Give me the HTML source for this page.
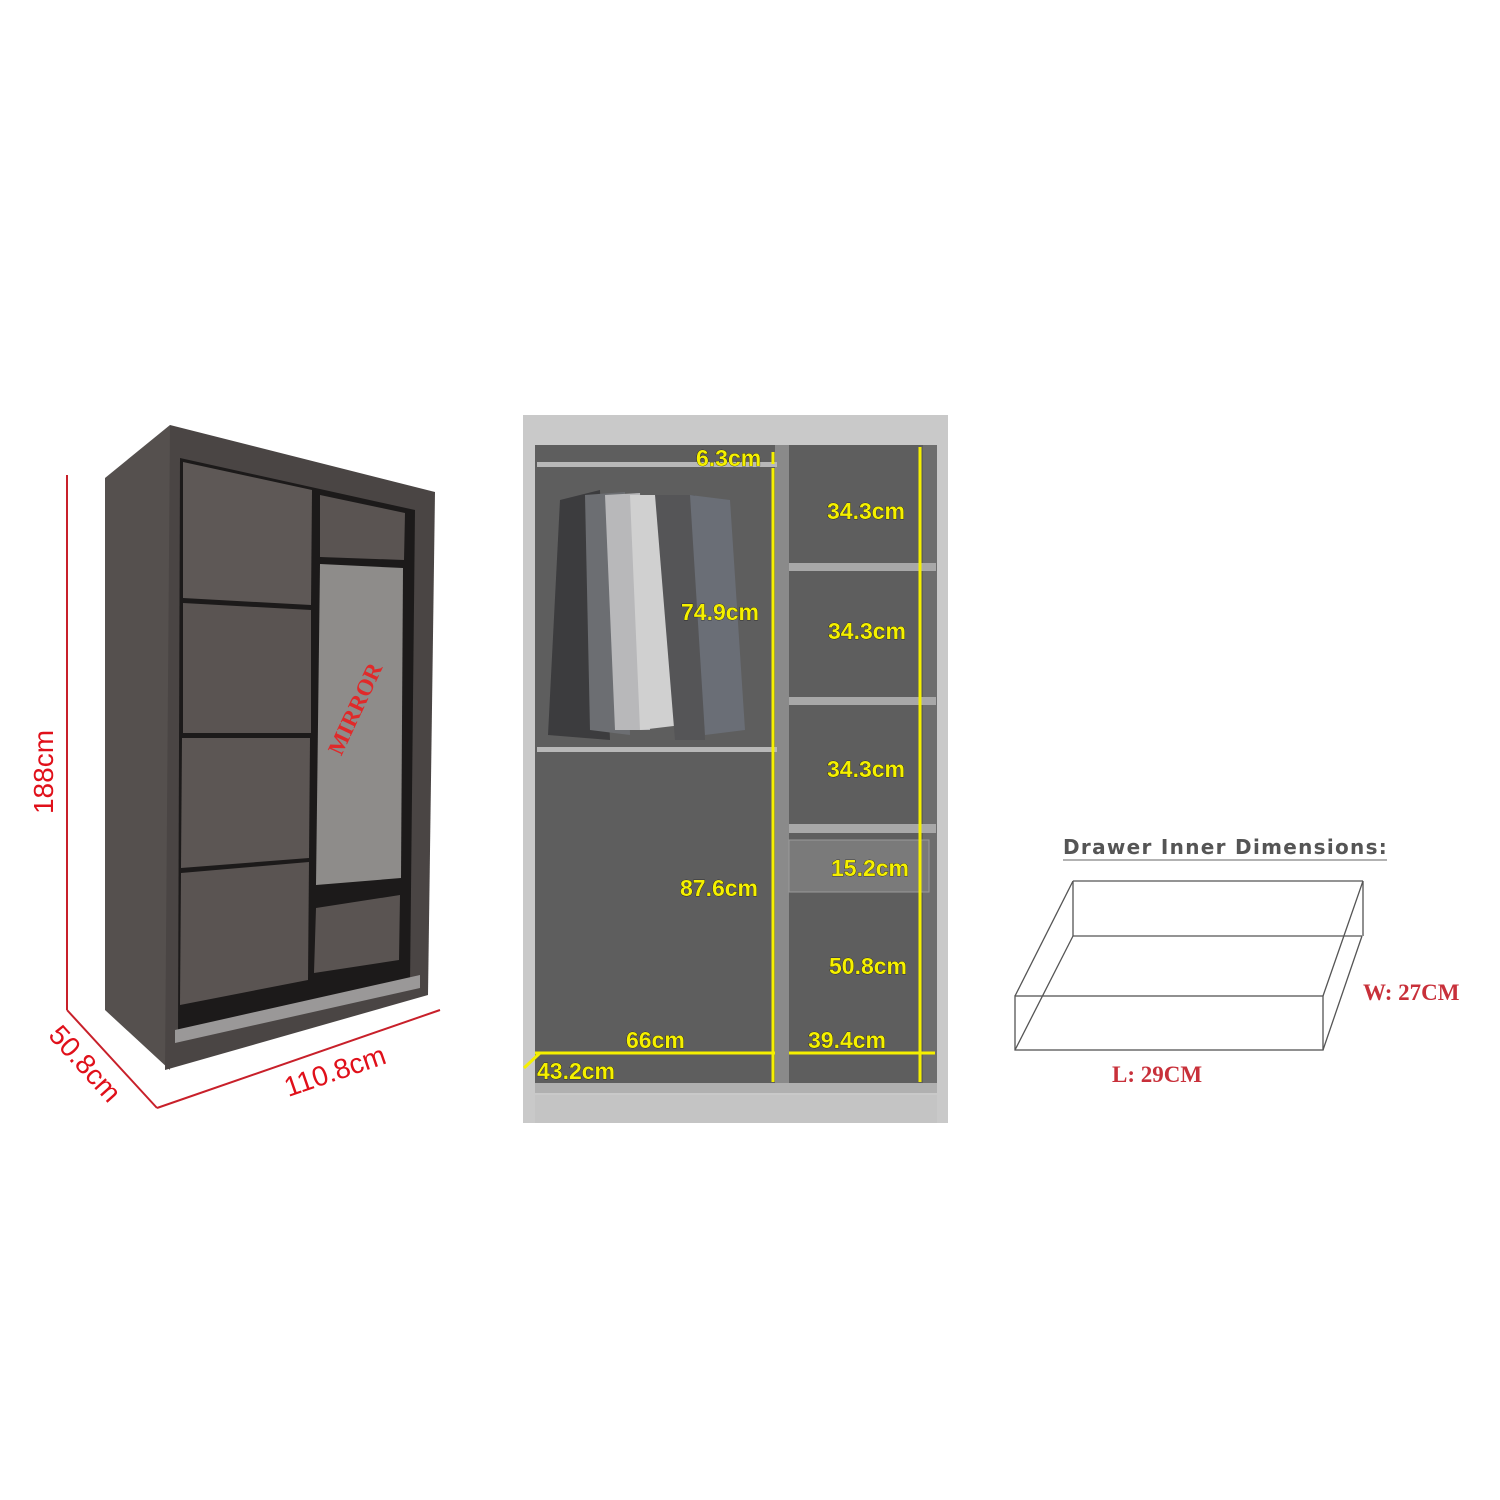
<!DOCTYPE html>
<html><head><meta charset="utf-8"><style>html,body{margin:0;padding:0;background:#fff}svg{display:block}</style></head>
<body>
<svg width="1500" height="1500" viewBox="0 0 1500 1500" xmlns="http://www.w3.org/2000/svg" font-family="Liberation Sans, sans-serif">
<rect width="1500" height="1500" fill="#fff"/>
<!-- Wardrobe -->
<polygon points="105,478 170,425 170,1070 105,1010" fill="#55504e"/>
<polygon points="170,425 435,492 428,995 165,1070" fill="#4a4544"/>
<polygon points="180,458 415,510 410,985 178,1035" fill="#1c1a1a"/>
<polygon points="183,462 312,490 311,605 183,598" fill="#5e5856"/>
<polygon points="183,603 311,610 311,733 183,733" fill="#5a5452"/>
<polygon points="182,738 310,738 309,858 181,868" fill="#5c5654"/>
<polygon points="181,873 309,862 308,980 180,1005" fill="#5a5452"/>
<polygon points="320,495 405,513 404,560 320,557" fill="#5a5452"/>
<polygon points="320,564 403,568 401,878 316,885" fill="#8e8c8a"/>
<polygon points="316,908 400,895 399,960 314,973" fill="#5a5452"/>
<polygon points="175,1030 420,975 420,988 175,1043" fill="#9a9898"/>
<text transform="translate(362,712) rotate(-65)" text-anchor="middle" font-family="Liberation Serif, serif" font-weight="bold" font-size="23" fill="#e02a2a">MIRROR</text>
<!-- red dims -->
<g stroke="#c8202a" stroke-width="2" fill="none">
<line x1="67" y1="475" x2="67" y2="1010"/>
<line x1="67" y1="1010" x2="157" y2="1108"/>
<line x1="157" y1="1108" x2="440" y2="1010"/>
</g>
<text transform="translate(53,772) rotate(-90)" text-anchor="middle" font-size="28" fill="#e0101a">188cm</text>
<text transform="translate(78,1070) rotate(48)" text-anchor="middle" font-size="28" fill="#e0101a">50.8cm</text>
<text transform="translate(338,1080) rotate(-19)" text-anchor="middle" font-size="28" fill="#e0101a">110.8cm</text>
<!-- Interior -->
<rect x="523" y="415" width="425" height="708" fill="#c9c9c9"/>
<rect x="535" y="445" width="402" height="648" fill="#5e5e5e"/>
<rect x="775" y="445" width="14" height="638" fill="#8a8a8a"/>
<rect x="923" y="445" width="14" height="638" fill="#6e6e6e"/>
<rect x="789" y="563" width="147" height="8" fill="#a8a8a8"/>
<rect x="789" y="697" width="147" height="8" fill="#a8a8a8"/>
<rect x="789" y="824" width="147" height="9" fill="#a8a8a8"/>
<rect x="789" y="840" width="140" height="52" fill="#7a7a7a" stroke="#9a9a9a"/>
<rect x="535" y="1083" width="402" height="10" fill="#b0b0b0"/>
<rect x="535" y="1095" width="402" height="28" fill="#c4c4c4"/>
<rect x="537" y="462" width="240" height="5" fill="#b8b8b8"/>
<rect x="537" y="747" width="240" height="5" fill="#b8b8b8"/>
<!-- shirts -->
<polygon points="560,500 600,490 610,740 548,735" fill="#3c3c3e"/>
<polygon points="585,495 625,492 630,735 590,730" fill="#6c6e72"/>
<polygon points="605,495 640,493 650,730 615,730" fill="#b8b8ba"/>
<polygon points="630,495 665,495 682,725 640,730" fill="#d0d0d0"/>
<polygon points="655,495 695,495 705,740 675,740" fill="#555557"/>
<polygon points="690,495 730,500 745,730 705,735" fill="#6a6e76"/>
<!-- yellow lines -->
<g stroke="#f5f000" stroke-width="3" fill="none">
<line x1="773" y1="468" x2="773" y2="1082"/>
<line x1="920" y1="447" x2="920" y2="1082"/>
<line x1="535" y1="1053" x2="775" y2="1053"/>
<line x1="789" y1="1053" x2="935" y2="1053"/>
<line x1="524" y1="1068" x2="540" y2="1053"/>
<line x1="773" y1="452" x2="773" y2="464"/>
</g>
<g font-size="23" font-weight="bold" fill="#f5f000" stroke="#000" stroke-width="0.6" paint-order="stroke">
<text x="696" y="466">6.3cm</text>
<text x="827" y="519">34.3cm</text>
<text x="681" y="620">74.9cm</text>
<text x="828" y="639">34.3cm</text>
<text x="827" y="777">34.3cm</text>
<text x="831" y="876">15.2cm</text>
<text x="680" y="896">87.6cm</text>
<text x="829" y="974">50.8cm</text>
<text x="626" y="1048">66cm</text>
<text x="808" y="1048">39.4cm</text>
<text x="537" y="1079">43.2cm</text>
</g>
<!-- Drawer -->
<text x="1063" y="854" font-family="DejaVu Sans, sans-serif" font-size="20" font-weight="bold" fill="#555" letter-spacing="1.3">Drawer Inner Dimensions:</text>
<line x1="1063" y1="860" x2="1387" y2="860" stroke="#999" stroke-width="1.5"/>
<g stroke="#555" stroke-width="1.3" fill="none">
<line x1="1073" y1="881" x2="1363" y2="881"/>
<line x1="1073" y1="881" x2="1073" y2="936"/>
<line x1="1073" y1="936" x2="1362" y2="936"/>
<line x1="1363" y1="881" x2="1363" y2="936"/>
<rect x="1015" y="996" width="308" height="54"/>
<line x1="1073" y1="881" x2="1015" y2="996"/>
<line x1="1073" y1="936" x2="1015" y2="1050"/>
<line x1="1363" y1="881" x2="1323" y2="996"/>
<line x1="1362" y1="936" x2="1323" y2="1050"/>
</g>
<text x="1363" y="1000" font-family="Liberation Serif, serif" font-weight="bold" font-size="23" fill="#c8303a">W: 27CM</text>
<text x="1112" y="1082" font-family="Liberation Serif, serif" font-weight="bold" font-size="23" fill="#c8303a">L: 29CM</text>
</svg>
</body></html>
